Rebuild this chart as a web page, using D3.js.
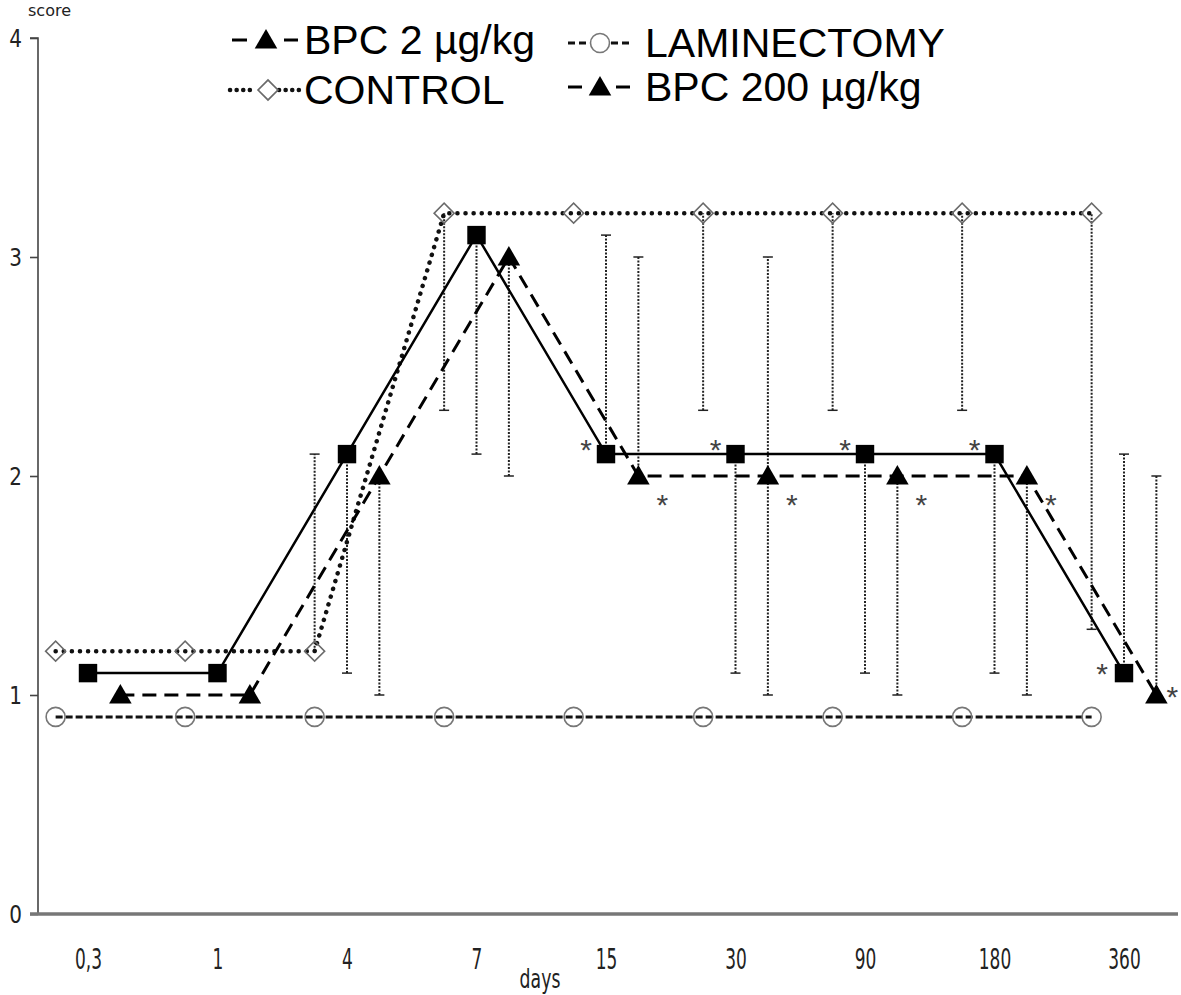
<!DOCTYPE html>
<html>
<head>
<meta charset="utf-8">
<script src="https://cdn.jsdelivr.net/npm/d3@7"></script>
<style>
  body { margin: 0; background: #fff; }
  svg { display: block; }
</style>
</head>
<body>
<svg id="canvas" width="1181" height="995"></svg>
<script>
// ---------------------------------------------------------------- data
var days = ["0,3", "1", "4", "7", "15", "30", "90", "180", "360"];
var yTicks = [0, 1, 2, 3, 4];

var control     = [1.2, 1.2, 1.2, 3.2, 3.2, 3.2, 3.2, 3.2, 3.2];
var laminectomy = [0.9, 0.9, 0.9, 0.9, 0.9, 0.9, 0.9, 0.9, 0.9];
var bpc2        = [1.1, 1.1, 2.1, 3.1, 2.1, 2.1, 2.1, 2.1, 1.1];
var bpc200      = [1.0, 1.0, 2.0, 3.0, 2.0, 2.0, 2.0, 2.0, 1.0];

// error bar ranges [low, high], null = no bar
var controlErr = [null, null, [1.2, 2.1], [2.3, 3.2], null, [2.3, 3.2], [2.3, 3.2], [2.3, 3.2], [1.3, 3.2]];
var bpc2Err    = [null, null, [1.1, 2.1], [2.1, 3.1], [2.1, 3.1], [1.1, 2.1], [1.1, 2.1], [1.1, 2.1], [1.1, 2.1]];
var bpc200Err  = [null, null, [1.0, 2.0], [2.0, 3.0], [2.0, 3.0], [1.0, 3.0], [1.0, 2.0], [1.0, 2.0], [1.0, 2.0]];

// significance marks (*)
var bpc2Sig   = [0, 0, 0, 0, 1, 1, 1, 1, 1];
var bpc200Sig = [0, 0, 0, 0, 1, 1, 1, 1, 1];

// ---------------------------------------------------------------- setup
var svg = d3.select('#canvas');
var x = d3.scalePoint().domain(days).range([88, 1124]);
var y = d3.scaleLinear().domain([0, 4]).range([914, 38]);
var step = x.step();

var series = [
  { name: 'LAMINECTOMY', values: laminectomy, err: null, sig: null, off: -0.25, marker: 'circle',
    dash: '7,3', width: 3, color: '#111' },
  { name: 'CONTROL', values: control, err: controlErr, sig: null, off: -0.25, marker: 'diamond',
    dash: '0.1,8', width: 4.5, color: '#111', cap: 'round' },
  { name: 'BPC 2 µg/kg', values: bpc2, err: bpc2Err, sig: bpc2Sig, off: 0, marker: 'square',
    dash: null, width: 2.5, color: '#000' },
  { name: 'BPC 200 µg/kg', values: bpc200, err: bpc200Err, sig: bpc200Sig, off: 0.25, marker: 'triangle',
    dash: '14,8', width: 3, color: '#000' }
];

function px(s, i) { return x(days[i]) + s.off * step; }

function drawMarker(g, type, cx, cy) {
  if (type === 'square') {
    g.append('path').attr('d', d3.symbol().type(d3.symbolSquare).size(340)())
      .attr('transform', 'translate(' + cx + ',' + cy + ')').attr('fill', '#000');
  } else if (type === 'triangle') {
    g.append('path').attr('d', d3.symbol().type(d3.symbolTriangle).size(220)())
      .attr('transform', 'translate(' + cx + ',' + (cy + 2) + ')').attr('fill', '#000');
  } else if (type === 'diamond') {
    g.append('path').attr('d', d3.symbol().type(d3.symbolSquare).size(200)())
      .attr('transform', 'translate(' + cx + ',' + cy + ') rotate(45)')
      .attr('fill', 'none').attr('stroke', '#6a6a6a').attr('stroke-width', 1.6);
  } else if (type === 'circle') {
    g.append('circle').attr('cx', cx).attr('cy', cy).attr('r', 9.5)
      .attr('fill', 'none').attr('stroke', '#777').attr('stroke-width', 1.6);
  }
}

// ---------------------------------------------------------------- axes
var yAxis = svg.append('g').attr('transform', 'translate(38,0)')
  .call(d3.axisLeft(y).tickValues(yTicks).tickSize(8).tickPadding(12).tickFormat(d3.format('d')));
yAxis.select('.domain').attr('stroke', '#444').attr('stroke-width', 1.6).attr('d', 'M-8,38H0V914');
yAxis.selectAll('.tick line').attr('stroke', '#444').attr('stroke-width', 1.6);
yAxis.selectAll('.tick text').attr('font-family', 'DejaVu Sans').attr('font-size', 25)
  .attr('fill', '#222').attr('transform', 'scale(0.8,1)');

var xAxis = svg.append('g').attr('transform', 'translate(0,914)')
  .call(d3.axisBottom(x).tickSize(0).tickPadding(40));
xAxis.select('.domain').attr('stroke', '#777').attr('stroke-width', 3.5).attr('d', 'M30,0H1178');
xAxis.selectAll('.tick text').attr('font-family', 'DejaVu Sans').attr('font-size', 25)
  .attr('fill', '#222').attr('dy', 0).attr('y', 50).attr('transform', 'scale(0.68,1.1)');

svg.append('text').attr('x', 28).attr('y', 16).attr('font-family', 'DejaVu Sans')
  .attr('font-size', 16).attr('fill', '#222').text('score');
svg.append('text').attr('transform', 'translate(540,988) scale(0.72,1.1)').attr('text-anchor', 'middle')
  .attr('font-family', 'DejaVu Sans').attr('font-size', 24).attr('fill', '#222').text('days');

// ---------------------------------------------------------------- error bars
var errG = svg.append('g');
series.forEach(function(s) {
  if (!s.err) return;
  s.err.forEach(function(e, i) {
    if (!e) return;
    var cx = px(s, i);
    errG.append('line').attr('x1', cx).attr('x2', cx).attr('y1', y(e[0])).attr('y2', y(e[1]))
      .attr('stroke', '#222').attr('stroke-width', 2).attr('stroke-dasharray', '2,1.5');
    e.forEach(function(v) {
      if (Math.abs(v - s.values[i]) < 1e-9) return;
      errG.append('line').attr('x1', cx - 5).attr('x2', cx + 5).attr('y1', y(v)).attr('y2', y(v))
        .attr('stroke', '#222').attr('stroke-width', 1.5);
    });
  });
});

// ---------------------------------------------------------------- lines + markers
var lineGen = d3.line().x(function(d) { return d.x; }).y(function(d) { return d.y; });
series.forEach(function(s) {
  var pts = s.values.map(function(v, i) { return { x: px(s, i), y: y(v) }; });
  svg.append('path').attr('d', lineGen(pts)).attr('fill', 'none')
    .attr('stroke', s.color).attr('stroke-width', s.width)
    .attr('stroke-dasharray', s.dash).attr('stroke-linecap', s.cap || 'butt');
});
var markG = svg.append('g');
series.forEach(function(s) {
  s.values.forEach(function(v, i) { drawMarker(markG, s.marker, px(s, i), y(v)); });
});

// ---------------------------------------------------------------- asterisks
var sigG = svg.append('g').attr('font-family', 'Liberation Sans').attr('font-size', 30)
  .attr('fill', '#444').attr('text-anchor', 'middle');
series.forEach(function(s) {
  if (!s.sig) return;
  s.sig.forEach(function(f, i) {
    if (!f) return;
    var last = i === days.length - 1;
    var dx, dy;
    if (s.marker === 'square') { dx = last ? -22 : -20; dy = last ? -8 : -13; }
    else { dx = last ? 16 : 24; dy = last ? -7 : 20; }
    sigG.append('text').attr('x', px(s, i) + dx).attr('y', y(s.values[i]) + dy + 19).text('*');
  });
});

// ---------------------------------------------------------------- legend
var legend = [
  { s: series[2], mk: 'triangle', style: series[3], segs: [[232, 247], [284, 298]], cx: 266, y: 40, tx: 304 },
  { s: series[1], mk: 'diamond', style: series[1], segs: [[230, 256], [279, 300]], cx: 268, y: 90, tx: 304 },
  { s: series[0], mk: 'circle', style: series[0], segs: [[568, 590], [611, 632]], cx: 600, y: 43, tx: 645 },
  { s: series[3], mk: 'triangle', style: series[3], segs: [[568, 582], [616, 630]], cx: 600, y: 87, tx: 645 }
];
var legG = svg.append('g');
legend.forEach(function(l) {
  var st = l.style;
  l.segs.forEach(function(seg) {
    legG.append('line').attr('x1', seg[0]).attr('x2', seg[1]).attr('y1', l.y).attr('y2', l.y)
      .attr('stroke', st.color).attr('stroke-width', st.width)
      .attr('stroke-dasharray', l.mk === 'diamond' ? '0.1,6.5' : (l.mk === 'circle' ? '7,4' : null))
      .attr('stroke-linecap', l.mk === 'diamond' ? 'round' : 'butt');
  });
  drawMarker(legG, l.mk, l.cx, l.y);
  legG.append('text').attr('x', l.tx).attr('y', l.y + 14)
    .attr('font-family', 'Liberation Sans').attr('font-size', 41).attr('fill', '#000')
    .text(l.s.name);
});
</script>
</body>
</html>
